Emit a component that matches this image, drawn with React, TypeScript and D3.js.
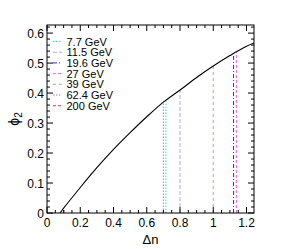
import React from "react";
import * as d3 from "d3";

const width = 284;
const height = 249;
const margin = { left: 47, right: 30, top: 25, bottom: 36 };

// curve: phi2 vs delta n
const curveDn = [0.078, 0.1, 0.2, 0.3, 0.4, 0.5, 0.6, 0.7, 0.8, 0.9, 1.0, 1.1, 1.2, 1.245];
const curvePhi = [0, 0.016, 0.085, 0.151, 0.212, 0.268, 0.321, 0.37, 0.41, 0.452, 0.49, 0.525, 0.556, 0.567];

const energies = ["7.7 GeV", "11.5 GeV", "19.6 GeV", "27 GeV", "39 GeV", "62.4 GeV", "200 GeV"];
const lineDn = [0.715, 0.8, 1.122, 1.139, 1.0, 0.7, 0.102];
const lineTop = [0.379, 0.41, 0.533, 0.539, 0.49, 0.372, 0.017];
const colors = ["#22e0e8", "#a8a8f0", "#2a2ae0", "#f060f0", "#70d070", "#8c8ce8", "#f03030"];
const dashes = ["1.5,1.5", "4,2", "4,2,1,2", "3,2", "3,3", "1.5,1.5", "3,2"];

const xTicks = [0, 0.2, 0.4, 0.6, 0.8, 1, 1.2];
const yTicks = [0, 0.1, 0.2, 0.3, 0.4, 0.5, 0.6];

export default function App() {
  const x = d3.scaleLinear().domain([0, 1.245]).range([margin.left, width - margin.right]);
  const y = d3.scaleLinear().domain([0, 0.627]).range([height - margin.bottom, margin.top]);
  const x0 = margin.left;
  const x1 = width - margin.right;
  const y0 = height - margin.bottom;
  const y1 = margin.top;

  const line = d3
    .line<number>()
    .x((d, i) => x(curveDn[i]))
    .y((d) => y(d))
    .curve(d3.curveMonotoneX);

  const xMinor = d3.range(0, 1.2451, 0.05);
  const yMinor = d3.range(0, 0.6271, 0.02);
  const font = "'Liberation Sans', Arial, sans-serif";

  return (
    <svg width={width} height={height} style={{ position: "absolute", left: 0, top: 0 }} fontFamily={font}>
      <rect width={width} height={height} fill="#fff" />

      {lineDn.map((v, i) => (
        <line
          key={"v" + i}
          x1={x(v)}
          x2={x(v)}
          y1={y(0)}
          y2={y(lineTop[i])}
          stroke={colors[i]}
          strokeWidth={1}
          strokeDasharray={dashes[i]}
        />
      ))}

      <path d={line(curvePhi) || ""} fill="none" stroke="#000" strokeWidth={1.1} />

      {/* ticks */}
      {xMinor.map((t, i) => {
        const major = Math.abs(t / 0.2 - Math.round(t / 0.2)) < 1e-6;
        const len = major ? 6 : 3;
        return (
          <g key={"xm" + i} stroke="#000" strokeWidth={1}>
            <line x1={x(t)} x2={x(t)} y1={y0} y2={y0 - len} />
            <line x1={x(t)} x2={x(t)} y1={y1} y2={y1 + len} />
          </g>
        );
      })}
      {yMinor.map((t, i) => {
        const major = Math.abs(t / 0.1 - Math.round(t / 0.1)) < 1e-6;
        const len = major ? 6 : 3;
        return (
          <g key={"ym" + i} stroke="#000" strokeWidth={1}>
            <line x1={x0} x2={x0 + len} y1={y(t)} y2={y(t)} />
            <line x1={x1} x2={x1 - len} y1={y(t)} y2={y(t)} />
          </g>
        );
      })}

      <rect x={x0} y={y1} width={x1 - x0} height={y0 - y1} fill="none" stroke="#000" strokeWidth={1} />

      {xTicks.map((t) => (
        <text key={"xt" + t} x={x(t)} y={227} fontSize={12} textAnchor="middle">
          {String(t)}
        </text>
      ))}
      {yTicks.map((t) => (
        <text key={"yt" + t} x={44} y={y(t) + 4.5} fontSize={12} textAnchor="end">
          {String(t)}
        </text>
      ))}

      <text x={(x0 + x1) / 2} y={244} fontSize={13} textAnchor="middle">
        Δn
      </text>
      <text transform={`translate(19,${(y0 + y1) / 2}) rotate(-90)`} fontSize={14} textAnchor="middle">
        ϕ<tspan fontSize={10} dy={3}>2</tspan>
      </text>

      {energies.map((e, i) => {
        const yy = 41.5 + i * 10.7;
        return (
          <g key={e}>
            <line x1={53} x2={62} y1={yy} y2={yy} stroke={colors[i]} strokeWidth={1} strokeDasharray={dashes[i]} />
            <text x={66.5} y={yy + 4} fontSize={11}>
              {e}
            </text>
          </g>
        );
      })}
    </svg>
  );
}
